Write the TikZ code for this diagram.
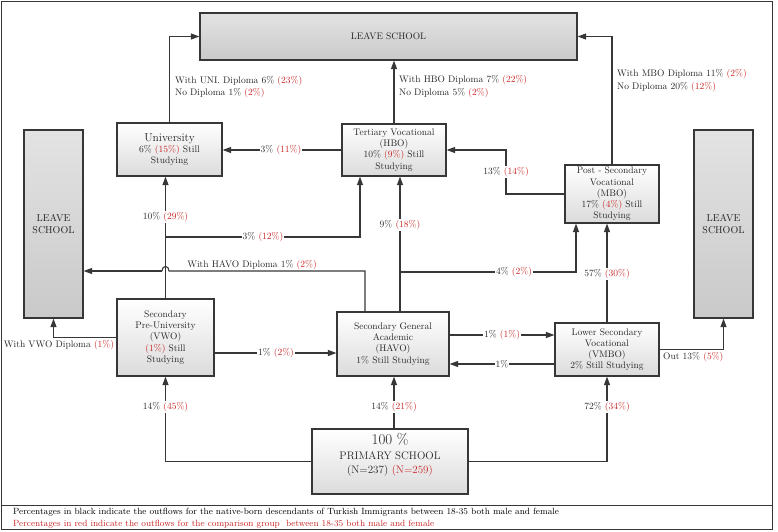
\documentclass[tikz,border=0pt]{standalone}
\usetikzlibrary{arrows.meta,calc}
\definecolor{pred}{RGB}{200,35,35}
\definecolor{pline}{RGB}{55,55,55}
\newcommand{\rd}[1]{\textcolor{pred}{#1}}
\begin{document}
\begin{tikzpicture}[x=1pt,y=-1pt,
  box/.style={draw=pline,line width=1.2pt,top color=white,bottom color=gray!28,align=center,
    font=\fontsize{9.5}{11.2}\selectfont,inner sep=1pt,text=black!85},
  leavebox/.style={draw=pline,line width=1.2pt,top color=gray!22,bottom color=gray!42,align=center,
    font=\fontsize{10}{11.5}\selectfont,text=black!85},
  arr/.style={draw=pline,line width=1.1pt,-{Triangle[length=8.5pt,width=6pt]}},
  ln/.style={draw=pline,line width=1.1pt},
  lab/.style={fill=white,inner sep=1pt,font=\fontsize{9.5}{11}\selectfont,text=black!85},
  note/.style={align=left,inner sep=0pt,font=\fontsize{9.5}{12.5}\selectfont,text=black!85}
]
\useasboundingbox (0,0) rectangle (778,531);
% frame
\draw[pline,line width=1pt] (1,1) rectangle (772,529);
\draw[pline,line width=1pt] (1,505) -- (772,505);
\node[anchor=west,inner sep=0pt,font=\fontsize{9}{10}\selectfont] (leg1) at (13,512) {Percentages in black indicate the outflows for the native-born descendants of Turkish Immigrants between 18-35 both male and female};
\node[anchor=west,inner sep=0pt,font=\fontsize{9}{10}\selectfont,text=pred] (leg2) at (13,524) {Percentages in red indicate the outflows for the comparison group\ \ between 18-35 both male and female};

% leave school boxes
\node[leavebox,minimum width=377pt,minimum height=47pt,font=\fontsize{9.5}{11}\selectfont] (leaveT) at (388.5,36.5) {LEAVE SCHOOL};
\node[leavebox,minimum width=59pt,minimum height=188pt] (leaveL) at (53.5,224) {LEAVE\\SCHOOL};
\node[leavebox,minimum width=59pt,minimum height=188pt] (leaveR) at (723.5,224) {LEAVE\\SCHOOL};

% education boxes
\node[box,minimum width=105pt,minimum height=53pt] (uni) at (169.5,149.5) {{\fontsize{11.5}{13}\selectfont University}\\6\% \rd{(15\%)} Still\\Studying};
\node[box,minimum width=104pt,minimum height=52pt] (hbo) at (394,150) {Tertiary Vocational\\(HBO)\\10\% \rd{(9\%)} Still\\Studying};
\node[box,minimum width=94pt,minimum height=58pt] (mbo) at (612,194) {Post - Secondary\\Vocational\\(MBO)\\17\% \rd{(4\%)} Still\\Studying};
\node[box,minimum width=97pt,minimum height=77pt] (vwo) at (165.5,337.5) {Secondary\\Pre-University\\(VWO)\\\rd{(1\%)} Still\\Studying};
\node[box,minimum width=112pt,minimum height=64pt] (havo) at (393,344) {Secondary General\\Academic\\(HAVO)\\1\% Still Studying};
\node[box,minimum width=104pt,minimum height=53pt] (vmbo) at (607,349.5) {Lower Secondary\\Vocational\\(VMBO)\\2\% Still Studying};
\node[box,minimum width=156pt,minimum height=65pt] (prim) at (390,461.5) {};
\node[align=center,inner sep=0pt,text=black!85,font=\fontsize{11}{14.5}\selectfont] (primtxt) at (390,455) {{\fontsize{15}{15}\selectfont 100 \%}\\PRIMARY SCHOOL\\(N=237) \rd{(N=259)}};

% connectors to top leave school
\draw[arr] (uni.north) |- (leaveT.west);
\draw[arr] (hbo.north) -- (hbo.north |- leaveT.south);
\draw[arr] (mbo.north) |- (leaveT.east);
\node[note,anchor=west] (n1) at (175,87) {With UNI. Diploma 6\% \rd{(23\%)}\\No Diploma 1\% \rd{(2\%)}};
\node[note,anchor=west] (n2) at (399,86.5) {With HBO Diploma 7\% \rd{(22\%)}\\No Diploma 5\% \rd{(2\%)}};
\node[note,anchor=west] (n3) at (617,80.5) {With MBO Diploma 11\% \rd{(2\%)}\\No Diploma 20\% \rd{(12\%)}};

% HBO -> University
\draw[arr] (hbo.west) -- (hbo.west -| uni.east);
% MBO -> HBO
\coordinate (m1) at (506,194);
\draw[arr] (mbo.west) -- (m1) |- (hbo.east);
% VWO -> University, with branch to HBO
\draw[arr] (vwo.north) -- (vwo.north |- uni.south);
\coordinate (b1) at (165.5,237);
\draw[arr] (b1) -| ([xshift=-34pt]hbo.south);
% HAVO -> HBO, with branch to MBO
\draw[arr] ([xshift=7pt]havo.north) -- ([xshift=7pt]havo.north |- hbo.south);
\coordinate (b2) at (400,272);
\draw[arr] (b2) -| ([xshift=-36pt]mbo.south);
% HAVO -> left leave school (with jump)
\coordinate (h1) at (365,271);
\coordinate (j1) at (169,271);
\coordinate (j2) at (162,271);
\draw[ln] ([xshift=-28pt]havo.north) -- (h1) -- (j1) .. controls (169,265) and (162,265) .. (j2);
\draw[arr] (j2) -- (leaveL.east |- j2);
% VWO -> left leave school
\draw[arr] (vwo.west) -| (leaveL.south);
% VWO <-> HAVO <-> VMBO
\draw[arr] ([yshift=-15.5pt]vwo.east) -- ([yshift=-15.5pt]vwo.east -| havo.west);
\draw[arr] ([yshift=9pt]havo.east) -- ([yshift=9pt]havo.east -| vmbo.west);
\draw[arr] ([yshift=-14.5pt]vmbo.west) -- ([yshift=-14.5pt]vmbo.west -| havo.east);
% VMBO -> MBO
\draw[arr] (vmbo.north) -- (vmbo.north |- mbo.south);
% VMBO -> right leave school
\draw[arr] (vmbo.east) -| (leaveR.south);
% Primary -> ...
\draw[arr] ([xshift=4pt]prim.north) -- ([xshift=4pt]prim.north |- havo.south);
\draw[arr] (prim.west) -| (vwo.south);
\draw[arr] (prim.east) -| (vmbo.south);

% labels on connectors
\node[lab] (l1) at (165.5,217) {10\% \rd{(29\%)}};
\node[lab] (l2) at (263,237) {3\% \rd{(12\%)}};
\node[lab] (l3) at (281,150) {3\% \rd{(11\%)}};
\node[lab] (l4) at (506,172) {13\% \rd{(14\%)}};
\node[lab] (l5) at (400,225) {9\% \rd{(18\%)}};
\node[lab] (l6) at (514,272) {4\% \rd{(2\%)}};
\node[lab] (l7) at (607,274) {57\% \rd{(30\%)}};
\node[lab] (l8) at (276,353) {1\% \rd{(2\%)}};
\node[lab] (l9) at (502,335) {1\% \rd{(1\%)}};
\node[lab] (l10) at (502,364) {1\%};
\node[lab] (l11) at (165.5,407) {14\% \rd{(45\%)}};
\node[lab] (l12) at (394,407) {14\% \rd{(21\%)}};
\node[lab] (l13) at (607,407) {72\% \rd{(34\%)}};
\node[lab,fill=none,anchor=south,inner sep=0.5pt] (l14) at (252,271) {With HAVO Diploma 1\% \rd{(2\%)}};
\node[lab,fill=none] (l15) at (59,345) {With VWO Diploma \rd{(1\%)}};
\node[lab,fill=none,anchor=west,inner sep=0pt] (l16) at (663,357) {Out 13\% \rd{(5\%)}};
\end{tikzpicture}
\end{document}
